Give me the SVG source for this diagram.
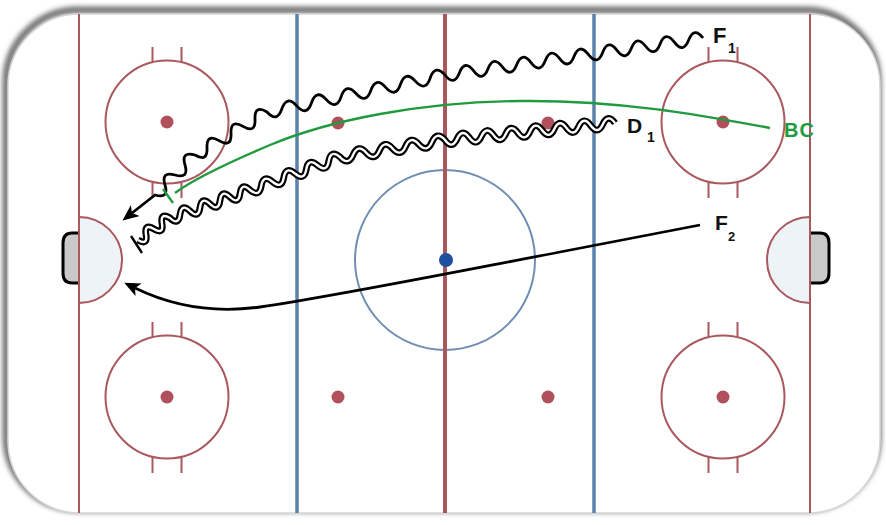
<svg xmlns="http://www.w3.org/2000/svg" width="886" height="525" viewBox="0 0 886 525">
<style>
.red{stroke:#a9585e;fill:none}
.circ{stroke:#a9585e;stroke-width:2;fill:none}
.hash{stroke:#a9585e;stroke-width:2}
.dot{fill:#b0505a}
.blue{stroke:#5b82ad;stroke-width:3.5}
.lbl{font-family:"Liberation Sans",Arial,sans-serif;font-weight:bold;fill:#111}
.skate{fill:none;stroke:#000;stroke-width:2.8;stroke-linejoin:round}
.green{fill:none;stroke:#1f9a3e;stroke-width:2.4}
</style>
<defs>
<filter id="blur" x="-10%" y="-10%" width="120%" height="120%"><feGaussianBlur stdDeviation="2.5"/></filter>
<marker id="arr" markerUnits="userSpaceOnUse" markerWidth="17" markerHeight="14" refX="4" refY="7" orient="auto"><path d="M0,0 L16,7 L0,14 L4,7 Z" fill="#000"/></marker>
<g id="circle"><circle cx="0" cy="0" r="61.5" class="circ"/><line x1="-14.5" y1="-60" x2="-14.5" y2="-75" class="hash"/><line x1="14.5" y1="-60" x2="14.5" y2="-75" class="hash"/><line x1="-14.5" y1="60" x2="-14.5" y2="76" class="hash"/><line x1="14.5" y1="60" x2="14.5" y2="76" class="hash"/><circle cx="0" cy="0" r="6.5" class="dot"/></g>
<path id="d1path" d="M615,123 q-7.116,-9.84 -12.143,1.214 t-12.143,1.214 -12.143,1.214 -12.143,1.214 -12.143,1.214 -12.143,1.214 -12.143,1.214 -12.143,1.214 -12.143,1.214 -12.143,1.214 -12.143,1.214 -12.143,1.214 -12.143,1.214 -12.143,1.214 q-8.24,-9.3 -13.125,2.125 t-13.125,2.125 -13.125,2.125 -13.125,2.125 -13.125,2.125 -13.125,2.125 -13.125,2.125 -13.125,2.125 q-9.237,-7.8 -11.25,4.125 t-11.25,4.125 -11.25,4.125 -11.25,4.125 -11.25,4.125 -11.25,4.125 -11.25,4.125 -11.25,4.125 q-8.465,-8.16 -10,3.5 t-10,3.5 -10,3.5 -10,3.5 -10,3.5 -10,3.5 -10,3.5 -10,3.5 q-9.95,-5.9 -8,5.5 t-8,5.5 -8,5.5 -8,5.5"/>
</defs>
<rect width="886" height="525" fill="#fff"/>
<g id="rink">
<rect x="8" y="14" width="872" height="499" rx="72" fill="none" stroke="#6f6f6f" stroke-width="7" filter="url(#blur)" transform="translate(-2,-4)"/>
<rect x="8" y="14" width="872" height="499" rx="72" fill="#fff" stroke="#d6d6d6" stroke-width="1.5"/>
<path d="M79,217 A43,43 0 0 1 79,303 Z" fill="#eef3f7" stroke="#a9585e" stroke-width="2"/>
<path d="M810,217 A43,43 0 0 0 810,303 Z" fill="#eef3f7" stroke="#a9585e" stroke-width="2"/>
<path d="M79,233 H72 Q63,233 63,243 V273 Q63,283 72,283 H79" fill="#c9c9c9" stroke="#000" stroke-width="3"/>
<path d="M810,233 H820 Q829,233 829,243 V273 Q829,283 820,283 H810" fill="#c9c9c9" stroke="#000" stroke-width="3"/>
<line x1="79" y1="14" x2="79" y2="513" class="red" stroke-width="2"/>
<line x1="810" y1="14" x2="810" y2="513" class="red" stroke-width="2"/>
<line x1="297" y1="14" x2="297" y2="513" class="blue"/>
<line x1="594" y1="14" x2="594" y2="513" class="blue"/>
<circle cx="445" cy="260" r="90" fill="none" stroke="#6f8fb2" stroke-width="2"/>
<line x1="445" y1="14" x2="445" y2="513" class="red" stroke-width="4"/>
<circle cx="446" cy="260" r="7" fill="#1f4f9f"/>
<use href="#circle" x="167" y="122"/>
<use href="#circle" x="723" y="122"/>
<use href="#circle" x="167" y="397"/>
<use href="#circle" x="723" y="397"/>
<circle cx="338" cy="123" r="6.5" class="dot"/>
<circle cx="548" cy="123" r="6.5" class="dot"/>
<circle cx="338" cy="397" r="6.5" class="dot"/>
<circle cx="548" cy="397" r="6.5" class="dot"/>
</g>
<g id="connectors">
<path class="skate" marker-end="url(#arr)" d="M703,38 q-9.01,-11.84 -14.333,2.056 t-14.333,2.056 -14.333,2.056 -14.333,2.056 -14.333,2.056 -14.333,2.056 -14.333,2.056 -14.333,2.056 -14.333,2.056 -14.333,2.056 -14.333,2.056 -14.333,2.056 -14.333,2.056 -14.333,2.056 -14.333,2.056 -14.333,2.056 -14.333,2.056 -14.333,2.056 q-10.056,-11.185 -14.833,3.083 t-14.833,3.083 -14.833,3.083 -14.833,3.083 -14.833,3.083 -14.833,3.083 -14.833,3.083 -14.833,3.083 -14.833,3.083 -14.833,3.083 -14.833,3.083 -14.833,3.083 q-12.67,-7.57 -12,7.167 t-12,7.167 -12,7.167 -12,7.167 -12,7.167 -12,7.167 q-14.19,-4.19 -10,10 t-10,10 -10,10 -10,10 L132,213"/>
<use href="#d1path" fill="none" stroke="#000" stroke-width="6.8" stroke-linejoin="round"/>
<use href="#d1path" fill="none" stroke="#fff" stroke-width="2.4" stroke-linejoin="round"/>
<line x1="131" y1="236" x2="142" y2="253" stroke="#000" stroke-width="2.4"/>
<path class="green" d="M770,128 C700,115 620,100 520,101 C420,102 330,120 270,145 C230,162 195,178 175,193"/>
<line x1="163" y1="189" x2="173" y2="203" stroke="#1f9a3e" stroke-width="2.4"/>
<path class="skate" marker-end="url(#arr)" d="M700,225 L560,252 C450,273 330,297 260,307 C210,314 170,305 135,288"/>
</g>
<g id="F1"><text class="lbl" x="713" y="43" font-size="22">F</text><text class="lbl" x="728" y="53" font-size="14">1</text></g>
<g id="D1"><text class="lbl" x="627" y="133" font-size="21">D</text><text class="lbl" x="647" y="142" font-size="14">1</text></g>
<g id="BC"><text x="784" y="137" font-size="20" letter-spacing="1" font-family="Liberation Sans, Arial, sans-serif" font-weight="bold" fill="#1f9a3e">BC</text></g>
<g id="F2"><text class="lbl" x="715" y="230" font-size="21">F</text><text class="lbl" x="728" y="241" font-size="13">2</text></g>
</svg>
